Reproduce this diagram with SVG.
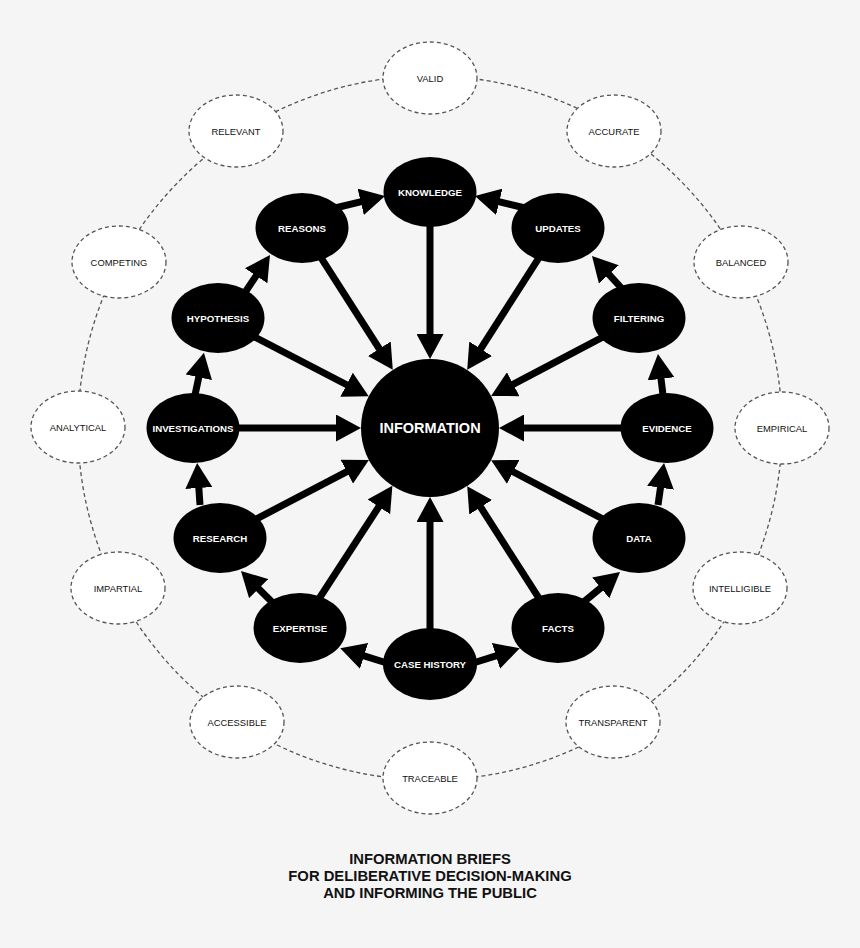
<svg xmlns="http://www.w3.org/2000/svg" width="860" height="948" viewBox="0 0 860 948">
<defs>
<style>
.bg{fill:#f5f5f5}
.ring{fill:none;stroke:#555;stroke-width:1.3;stroke-dasharray:4 3}
.outer ellipse{fill:#fff;stroke:#555;stroke-width:1.3;stroke-dasharray:4 3}
.outer text{font-family:"Liberation Sans",Arial,sans-serif;font-size:9.4px;fill:#111;text-anchor:middle}
.inner ellipse,.inner circle{fill:#000}
.inner text{font-family:"Liberation Sans",Arial,sans-serif;font-size:9.7px;font-weight:bold;fill:#fff;text-anchor:middle}
#information text{font-size:14.5px}
.conn line{stroke:#000;stroke-width:7;marker-end:url(#head)}
.title{font-family:"Liberation Sans",Arial,sans-serif;font-size:14.8px;font-weight:bold;fill:#111;text-anchor:middle}
</style>
<marker id="head" markerUnits="userSpaceOnUse" markerWidth="27" markerHeight="27" refX="5" refY="13.5" orient="auto">
<path d="M0,0 L25,13.5 L0,27 z" fill="#000"/>
</marker>
</defs>
<rect class="bg" x="0" y="0" width="860" height="948"/>
<circle class="ring" cx="430" cy="428" r="352"/>
<g class="outer">
<g id="valid"><ellipse cx="430" cy="78" rx="47" ry="36"/><text x="430" y="81.5">VALID</text></g>
<g id="accurate"><ellipse cx="614" cy="131" rx="47" ry="36"/><text x="614" y="134.5">ACCURATE</text></g>
<g id="balanced"><ellipse cx="741" cy="262" rx="47" ry="36"/><text x="741" y="265.5">BALANCED</text></g>
<g id="empirical"><ellipse cx="782" cy="428" rx="47" ry="36"/><text x="782" y="431.5">EMPIRICAL</text></g>
<g id="intelligible"><ellipse cx="740" cy="588" rx="47" ry="36"/><text x="740" y="591.5">INTELLIGIBLE</text></g>
<g id="transparent"><ellipse cx="613" cy="722" rx="47" ry="36"/><text x="613" y="725.5">TRANSPARENT</text></g>
<g id="traceable"><ellipse cx="430" cy="778" rx="47" ry="36"/><text x="430" y="781.5">TRACEABLE</text></g>
<g id="accessible"><ellipse cx="237" cy="722" rx="47" ry="36"/><text x="237" y="725.5">ACCESSIBLE</text></g>
<g id="impartial"><ellipse cx="118" cy="588" rx="47" ry="36"/><text x="118" y="591.5">IMPARTIAL</text></g>
<g id="analytical"><ellipse cx="78" cy="427" rx="47" ry="36"/><text x="78" y="430.5">ANALYTICAL</text></g>
<g id="competing"><ellipse cx="119" cy="262" rx="47" ry="36"/><text x="119" y="265.5">COMPETING</text></g>
<g id="relevant"><ellipse cx="236" cy="131" rx="47" ry="36"/><text x="236" y="134.5">RELEVANT</text></g>
</g>
<g class="conn" id="connectors">
<line x1="430" y1="192" x2="430" y2="339"/>
<line x1="302" y1="228" x2="382.0" y2="353.0"/>
<line x1="218" y1="318" x2="351.0" y2="387.0"/>
<line x1="193" y1="428" x2="341" y2="428"/>
<line x1="220" y1="538" x2="351.2" y2="469.3"/>
<line x1="300" y1="628" x2="381.5" y2="502.6"/>
<line x1="430" y1="664" x2="430" y2="517"/>
<line x1="558" y1="628" x2="478.0" y2="503.0"/>
<line x1="639" y1="538" x2="508.8" y2="469.5"/>
<line x1="667" y1="428" x2="519" y2="428"/>
<line x1="639" y1="318" x2="508.8" y2="386.6"/>
<line x1="558" y1="228" x2="478.0" y2="353.0"/>
<line x1="335" y1="208" x2="365.6" y2="200.7"/>
<line x1="240" y1="300" x2="258.9" y2="271.6"/>
<line x1="195" y1="395" x2="199.8" y2="372.4"/>
<line x1="200" y1="505" x2="198.5" y2="483"/>
<line x1="275" y1="605" x2="255.1" y2="585.1"/>
<line x1="390" y1="664" x2="359.3" y2="654.3"/>
<line x1="470" y1="664" x2="500.7" y2="654.3"/>
<line x1="580" y1="605" x2="604.6" y2="584.7"/>
<line x1="658" y1="505" x2="661.2" y2="482.8"/>
<line x1="663" y1="395" x2="660.4" y2="373.9"/>
<line x1="625" y1="292" x2="605.5" y2="270.7"/>
<line x1="525" y1="208" x2="494.4" y2="200.7"/>
</g>
<g class="inner">
<g id="information"><circle cx="430" cy="428" r="69"/><text x="430" y="433.2">INFORMATION</text></g>
<g id="knowledge"><ellipse cx="430" cy="192" rx="46.5" ry="35"/><text x="430" y="195.5">KNOWLEDGE</text></g>
<g id="reasons"><ellipse cx="302" cy="228" rx="46.5" ry="35"/><text x="302" y="231.5">REASONS</text></g>
<g id="hypothesis"><ellipse cx="218" cy="318" rx="46.5" ry="35"/><text x="218" y="321.5">HYPOTHESIS</text></g>
<g id="investigations"><ellipse cx="193" cy="428" rx="46.5" ry="35"/><text x="193" y="431.5">INVESTIGATIONS</text></g>
<g id="research"><ellipse cx="220" cy="538" rx="46.5" ry="35"/><text x="220" y="541.5">RESEARCH</text></g>
<g id="expertise"><ellipse cx="300" cy="628" rx="46.5" ry="35"/><text x="300" y="631.5">EXPERTISE</text></g>
<g id="case-history"><ellipse cx="430" cy="664" rx="47" ry="36"/><text x="430" y="667.5">CASE HISTORY</text></g>
<g id="facts"><ellipse cx="558" cy="628" rx="46.5" ry="35"/><text x="558" y="631.5">FACTS</text></g>
<g id="data"><ellipse cx="639" cy="538" rx="46.5" ry="35"/><text x="639" y="541.5">DATA</text></g>
<g id="evidence"><ellipse cx="667" cy="428" rx="46.5" ry="35"/><text x="667" y="431.5">EVIDENCE</text></g>
<g id="filtering"><ellipse cx="639" cy="318" rx="46.5" ry="35"/><text x="639" y="321.5">FILTERING</text></g>
<g id="updates"><ellipse cx="558" cy="228" rx="46.5" ry="35"/><text x="558" y="231.5">UPDATES</text></g>
</g>
<g id="title">
<text class="title" x="430" y="864">INFORMATION BRIEFS</text>
<text class="title" x="430" y="881">FOR DELIBERATIVE DECISION-MAKING</text>
<text class="title" x="430" y="898">AND INFORMING THE PUBLIC</text>
</g>
</svg>
